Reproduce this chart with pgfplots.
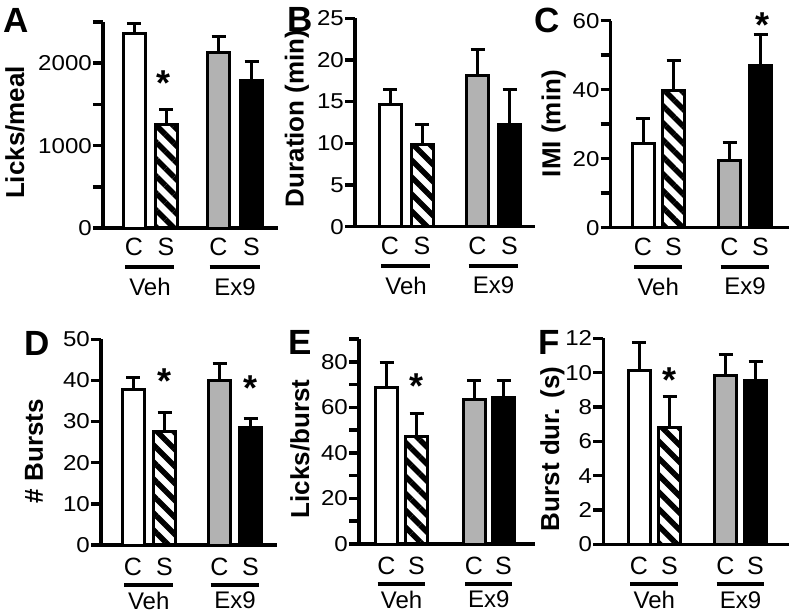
\documentclass[border=0pt]{standalone}
\usepackage{fontspec}
\setmainfont{Liberation Sans}
\usepackage{graphicx}
\usepackage{pgfplots}
\pgfplotsset{compat=1.18}
\usetikzlibrary{patterns.meta}
\definecolor{bargray}{RGB}{178,178,178}

\newcommand{\ticklab}[1]{\scalebox{1.12}[1]{#1}}

\pgfplotsset{
  panel/.style={
    scale only axis, anchor=south west, clip=false,
    xmin=0, ymin=0,
    axis x line*=bottom, axis y line*=left,
    axis line style={-, line width=3.5pt, black},
    xtick=\empty,
    tick align=outside,
    major tick length=10pt, minor tick length=10pt,
    every tick/.style={black, line width=3.5pt},
    every minor tick/.style={black, line width=3.5pt},
    yticklabel style={font=\fontsize{21.5}{21.5}\selectfont, inner sep=1pt},
    yticklabel={\ticklab{\pgfmathprintnumber[assume math mode=true]{\tick}}},
    /pgf/number format/1000 sep={},
  },
  ylab/.style 2 args={every axis y label/.style={at={(rel axis cs:0,#2)}, xshift=#1, rotate=90, anchor=center, font=\bfseries\fontsize{26}{26}\selectfont}},
  bars/.style={ybar, bar width=22, bar shift=0pt, draw=black, line width=3pt,
    error bars/y dir=plus, error bars/y explicit,
    error bars/error bar style={line width=3pt, black, solid},
    error bars/error mark options={line width=3pt, black, mark size=7pt, rotate=90}},
  hatch/.style={pattern={Lines[angle=-45,distance=12pt,line width=5.5pt]}, pattern color=black},
}

% #1 xC, #2 xS, #3 mid, #4 group name, #5 CS offset, #6 line offset, #7 name offset
\newcommand{\grp}[7]{%
  \node[font=\fontsize{25}{25}\selectfont, inner sep=0pt, anchor=center] at ([yshift=#5]axis cs:#1,0) {C};
  \node[font=\fontsize{25}{25}\selectfont, inner sep=0pt, anchor=center] at ([yshift=#5]axis cs:#2,0) {S};
  \draw[line width=4pt] ([xshift=-9pt,yshift=#6]axis cs:#1,0) -- ([xshift=8pt,yshift=#6]axis cs:#2,0);
  \node[font=\fontsize{24}{24}\selectfont, inner sep=0pt, anchor=center] at ([yshift=#7]axis cs:#3,0) {#4};
}
\newcommand{\panellet}[3]{\node[font=\bfseries\fontsize{35}{35}\selectfont, inner sep=0pt, anchor=center] at ([xshift=#1,yshift=#2]rel axis cs:0,1) {#3};}
\newcommand{\sigstar}[2]{\node[font=\bfseries\fontsize{36}{36}\selectfont, inner sep=0pt, anchor=north] at ([yshift=6.5pt]axis cs:#1,#2) {*};}

\begin{document}
\begin{tikzpicture}
\path[use as bounding box] (0pt,0pt) rectangle (789pt,-614pt);

% ---------- A ----------
\begin{axis}[panel, at={(103pt,-228pt)}, width=175pt, height=206pt,
  xmax=175, ymax=2500, ytick={0,1000,2000}, minor ytick={500,1500,2500},
  ylab={-88pt}{0.464}, ylabel={Licks/meal}]
\addplot[bars, fill=white] coordinates {(31,2355) +- (0,126)};
\addplot[bars, hatch] coordinates {(63,1261) +- (0,178)};
\addplot[bars, fill=bargray] coordinates {(115.5,2130) +- (0,197)};
\addplot[bars, fill=black] coordinates {(148.5,1785) +- (0,239)};
\sigstar{61}{1830}
\grp{31}{63}{47}{Veh}{-19pt}{-39pt}{-59pt}
\grp{115.5}{148.5}{132}{Ex9}{-19pt}{-39pt}{-59pt}
\panellet{-87pt}{1.5pt}{A}
\end{axis}

% ---------- B ----------
\begin{axis}[panel, at={(355pt,-226.7pt)}, width=180pt, height=208.4pt,
  xmax=180, ymax=25, ytick={0,5,10,15,20,25},
  ylab={-58pt}{0.52}, ylabel={Duration (min)}]
\addplot[bars, fill=white] coordinates {(35,14.7) +- (0,1.8)};
\addplot[bars, hatch] coordinates {(67,9.9) +- (0,2.4)};
\addplot[bars, fill=bargray] coordinates {(122.5,18.1) +- (0,3.2)};
\addplot[bars, fill=black] coordinates {(154.5,12.3) +- (0,4.2)};
\grp{35}{67}{51}{Veh}{-19pt}{-39pt}{-59pt}
\grp{122.5}{154.5}{138.5}{Ex9}{-19pt}{-39pt}{-59pt}
\panellet{-54.5pt}{-1.2pt}{B}
\end{axis}

% ---------- C ----------
\begin{axis}[panel, at={(610.7pt,-227.7pt)}, width=178.3pt, height=207pt,
  xmax=178.3, ymax=60, ytick={0,20,40,60}, minor ytick={10,30,50},
  ylab={-57pt}{0.503}, ylabel={IMI (min)}]
\addplot[bars, fill=white] coordinates {(32.3,24.3) +- (0,7.4)};
\addplot[bars, hatch] coordinates {(62.8,39.9) +- (0,8.7)};
\addplot[bars, fill=bargray] coordinates {(118.8,19.6) +- (0,5.0)};
\addplot[bars, fill=black] coordinates {(149.8,47.0) +- (0,9.0)};
\sigstar{151.3}{60.6}
\grp{32.3}{62.8}{47.5}{Veh}{-19pt}{-39pt}{-59pt}
\grp{118.8}{149.8}{134.3}{Ex9}{-19pt}{-39pt}{-59pt}
\panellet{-63.7pt}{0.7pt}{C}
\end{axis}

% ---------- D ----------
\begin{axis}[panel, at={(101pt,-545pt)}, width=176pt, height=205.7pt,
  xmax=176, ymax=50, ytick={0,10,20,30,40,50},
  ylab={-67pt}{0.457}, ylabel={\# Bursts}]
\addplot[bars, fill=white] coordinates {(32,37.9) +- (0,2.7)};
\addplot[bars, hatch] coordinates {(63.5,27.7) +- (0,4.6)};
\addplot[bars, fill=bargray] coordinates {(118.5,40.1) +- (0,3.9)};
\addplot[bars, fill=black] coordinates {(149.5,28.5) +- (0,2.2)};
\sigstar{63.5}{41.4}
\sigstar{150}{39.5}
\grp{32}{63.5}{47.7}{Veh}{-21.5pt}{-40pt}{-55.5pt}
\grp{118.5}{149.5}{134}{Ex9}{-21.5pt}{-40pt}{-55.5pt}
\panellet{-64.3pt}{-3.7pt}{D}
\end{axis}

% ---------- E ----------
\begin{axis}[panel, at={(359pt,-544pt)}, width=176pt, height=205pt,
  xmax=176, ymax=90, ytick={0,20,40,60,80}, minor ytick={10,30,50,70,90},
  ylab={-59pt}{0.463}, ylabel={Licks/burst}]
\addplot[bars, fill=white] coordinates {(27.5,68.7) +- (0,11.0)};
\addplot[bars, hatch] coordinates {(57.5,47.1) +- (0,10.2)};
\addplot[bars, fill=bargray] coordinates {(115,63.6) +- (0,8.0)};
\addplot[bars, fill=black] coordinates {(144.5,64.3) +- (0,7.6)};
\sigstar{57.5}{71.9}
\grp{27.5}{57.5}{42.5}{Veh}{-21.5pt}{-40pt}{-55.5pt}
\grp{115}{144.5}{129.7}{Ex9}{-21.5pt}{-40pt}{-55.5pt}
\panellet{-59pt}{-3pt}{E}
\end{axis}

% ---------- F ----------
\begin{axis}[panel, at={(603.3pt,-544.3pt)}, width=185.7pt, height=206pt,
  xmax=185.7, ymax=12, ytick={0,2,4,6,8,10,12},
  ylab={-51pt}{0.463}, ylabel={Burst dur. (s)}]
\addplot[bars, fill=white] coordinates {(35.7,10.11) +- (0,1.66)};
\addplot[bars, hatch] coordinates {(66.2,6.79) +- (0,1.81)};
\addplot[bars, fill=bargray] coordinates {(122.2,9.86) +- (0,1.17)};
\addplot[bars, fill=black] coordinates {(152.2,9.53) +- (0,1.11)};
\sigstar{66}{9.92}
\grp{35.7}{66.2}{51}{Veh}{-21.5pt}{-40pt}{-55.5pt}
\grp{122.2}{152.2}{137.2}{Ex9}{-21.5pt}{-40pt}{-55.5pt}
\panellet{-53.8pt}{-4.2pt}{F}
\end{axis}
\end{tikzpicture}
\end{document}
